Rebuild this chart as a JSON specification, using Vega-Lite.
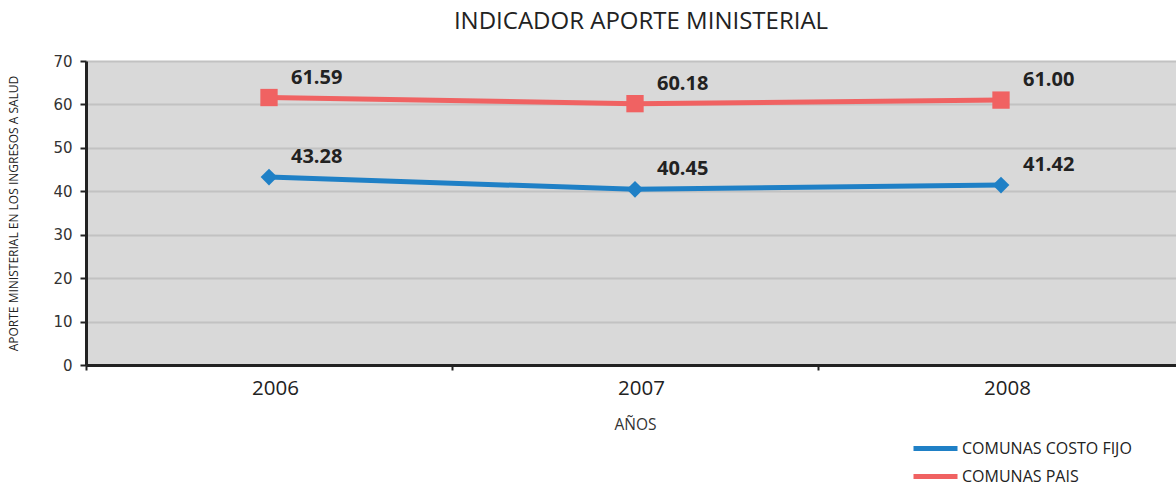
{
  "$schema": "https://vega.github.io/schema/vega-lite/v6.json",
  "autosize": "none",
  "width": 1090,
  "height": 304,
  "padding": {"left": 86, "top": 61, "right": 0, "bottom": 122},
  "background": "white",
  "title": {
    "text": "INDICADOR APORTE MINISTERIAL",
    "font": "Open Sans",
    "fontSize": 24,
    "fontWeight": "normal",
    "color": "#222222",
    "anchor": "middle",
    "dx": 10,
    "offset": 20
  },
  "config": {
    "view": {"fill": "#d9d9d9", "stroke": null},
    "font": "Open Sans"
  },
  "data": {
    "values": [
      {"year": "2006", "series": "COMUNAS COSTO FIJO", "value": 43.28},
      {"year": "2007", "series": "COMUNAS COSTO FIJO", "value": 40.45},
      {"year": "2008", "series": "COMUNAS COSTO FIJO", "value": 41.42},
      {"year": "2006", "series": "COMUNAS PAIS", "value": 61.59},
      {"year": "2007", "series": "COMUNAS PAIS", "value": 60.18},
      {"year": "2008", "series": "COMUNAS PAIS", "value": 61.00}
    ]
  },
  "encoding": {
    "x": {
      "field": "year",
      "type": "ordinal",
      "scale": {"type": "band", "range": [0, 1098], "paddingInner": 0, "paddingOuter": 0},
      "axis": {
        "title": "AÑOS",
        "titleFont": "Open Sans",
        "titleFontSize": 15.5,
        "titleFontWeight": "normal",
        "titleColor": "#333333",
        "titlePadding": 19,
        "labelAngle": 0,
        "labelFont": "Open Sans",
        "labelFontSize": 20.5,
        "labelColor": "#222222",
        "labelPadding": 8,
        "labelOffset": 6,
        "bandPosition": 0,
        "tickBand": "extent",
        "ticks": true,
        "tickColor": "#222222",
        "tickWidth": 2,
        "tickSize": 5,
        "domainColor": "#222222",
        "domainWidth": 3,
        "grid": false
      }
    },
    "y": {
      "field": "value",
      "type": "quantitative",
      "scale": {"domain": [0, 70], "nice": false},
      "axis": {
        "title": "APORTE MINISTERIAL EN LOS INGRESOS A SALUD",
        "titleFont": "Open Sans",
        "titleFontSize": 12,
        "titleFontWeight": "normal",
        "titleColor": "#222222",
        "titlePadding": 32,
        "values": [0, 10, 20, 30, 40, 50, 60, 70],
        "labelFont": "DejaVu Sans",
        "labelFontSize": 15,
        "labelColor": "#333333",
        "labelPadding": 8,
        "tickColor": "#222222",
        "tickWidth": 2,
        "tickSize": 6,
        "domainColor": "#222222",
        "domainWidth": 3,
        "grid": true,
        "gridColor": "#c2c2c2",
        "gridWidth": 2
      }
    }
  },
  "layer": [
    {
      "mark": {"type": "line", "strokeWidth": 5},
      "encoding": {
        "color": {
          "field": "series",
          "type": "nominal",
          "scale": {"domain": ["COMUNAS COSTO FIJO", "COMUNAS PAIS"], "range": ["#1f80c6", "#f06262"]},
          "legend": {
            "title": null,
            "orient": "none",
            "legendX": 836,
            "legendY": 374,
            "symbolType": "M-2,0H2",
            "symbolSize": 484,
            "symbolStrokeWidth": 5,
            "labelFont": "Open Sans",
            "labelFontSize": 16,
            "labelColor": "#222222",
            "labelLimit": 400,
            "rowPadding": 4,
            "labelOffset": 13
          }
        }
      }
    },
    {
      "transform": [{"filter": "datum.series === 'COMUNAS COSTO FIJO'"}],
      "mark": {"type": "point", "filled": true, "opacity": 1, "shape": "diamond", "size": 280},
      "encoding": {
        "color": {"field": "series", "type": "nominal", "legend": null}
      }
    },
    {
      "transform": [{"filter": "datum.series === 'COMUNAS PAIS'"}],
      "mark": {"type": "point", "filled": true, "opacity": 1, "shape": "square", "size": 300},
      "encoding": {
        "color": {"field": "series", "type": "nominal", "legend": null}
      }
    },
    {
      "mark": {"type": "text", "align": "left", "baseline": "middle", "dx": 22, "dy": -20, "font": "Open Sans", "fontSize": 20, "fontWeight": "bold", "color": "#222222"},
      "encoding": {
        "text": {"field": "value", "type": "quantitative", "format": ".2f"}
      }
    }
  ]
}
